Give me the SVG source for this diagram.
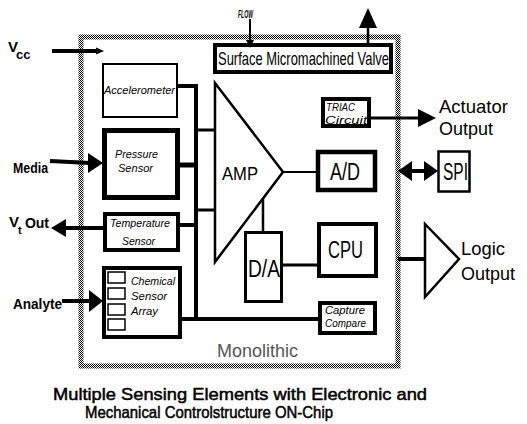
<svg xmlns="http://www.w3.org/2000/svg" width="527" height="424" viewBox="0 0 527 424">
<defs>
<pattern id="dither" patternUnits="userSpaceOnUse" width="2" height="2">
<rect width="2" height="2" fill="#fff"/>
<rect width="1" height="1" fill="#000"/>
<rect x="1" y="1" width="1" height="1" fill="#000"/>
</pattern>
<style>
.box{fill:#fff;stroke:#000}
.w{fill:none;stroke:#000}
.hd{fill:#000;stroke:none}
.lbl{font-family:"Liberation Sans",Arial,sans-serif;font-weight:bold;font-size:15px;fill:#000}
.it{font-family:"Liberation Sans",Arial,sans-serif;font-style:italic;font-size:11px;fill:#000}
.big{font-family:"Liberation Sans",Arial,sans-serif;font-size:23px;fill:#000}
.out{font-family:"Liberation Sans",Arial,sans-serif;font-size:19px;fill:#000}
.cap{font-family:"Liberation Sans",Arial,sans-serif;font-size:17px;fill:#000;stroke:#000;stroke-width:0.5}
</style>
</defs>
<rect width="527" height="424" fill="#fff"/>

<g id="chip">
<rect x="81" y="37" width="317" height="329" fill="none" stroke="url(#dither)" stroke-width="5"/>
<text x="217" y="357" class="out" style="fill:#555" textLength="81" lengthAdjust="spacingAndGlyphs">Monolithic</text>
</g>

<g id="valve">
<rect x="215" y="45" width="176" height="27" class="box" stroke-width="4"/>
<text x="218" y="65" class="out" font-size="18" textLength="171" lengthAdjust="spacingAndGlyphs">Surface Micromachined Valve</text>
</g>

<g id="accelerometer">
<rect x="103" y="64" width="74" height="53" class="box" stroke-width="2"/>
<text x="104" y="94" class="it" textLength="71" lengthAdjust="spacingAndGlyphs">Accelerometer</text>
</g>

<g id="pressure">
<rect x="104.5" y="130.5" width="73" height="67" class="box" stroke-width="5"/>
<text x="115" y="158" class="it" textLength="43" lengthAdjust="spacingAndGlyphs">Pressure</text>
<text x="118" y="172" class="it" textLength="35" lengthAdjust="spacingAndGlyphs">Sensor</text>
</g>

<g id="temperature">
<rect x="105" y="214" width="73" height="36" class="box" stroke-width="4"/>
<text x="110" y="227" class="it" textLength="60" lengthAdjust="spacingAndGlyphs">Temperature</text>
<text x="122" y="245" class="it" textLength="33" lengthAdjust="spacingAndGlyphs">Sensor</text>
</g>

<g id="chemical">
<rect x="104" y="268" width="76" height="69" class="box" stroke-width="4"/>
<rect x="108" y="272" width="17" height="11" class="box" stroke-width="1.5"/>
<rect x="108" y="288" width="17" height="11" class="box" stroke-width="1.5"/>
<rect x="108" y="304" width="17" height="11" class="box" stroke-width="1.5"/>
<rect x="108" y="319" width="17" height="11" class="box" stroke-width="1.5"/>
<text x="131" y="285" class="it" textLength="44" lengthAdjust="spacingAndGlyphs">Chemical</text>
<text x="131" y="300" class="it" textLength="36" lengthAdjust="spacingAndGlyphs">Sensor</text>
<text x="131" y="315" class="it" textLength="27" lengthAdjust="spacingAndGlyphs">Array</text>
</g>

<g id="amp">
<polygon points="215,83 283,172 215,262" class="box" stroke-width="2.5"/>
<text x="222" y="180" class="out" textLength="36" lengthAdjust="spacingAndGlyphs">AMP</text>
</g>

<g id="triac">
<rect x="323" y="99" width="46" height="27" class="box" stroke-width="4"/>
<text x="326" y="111" class="it" font-size="10" textLength="29" lengthAdjust="spacingAndGlyphs">TRIAC</text>
<text x="325" y="124" class="it" textLength="42" lengthAdjust="spacingAndGlyphs">Circuit</text>
</g>

<g id="ad">
<rect x="318" y="152" width="57" height="38" class="box" stroke-width="4.5"/>
<text x="330" y="180" class="big" textLength="30" lengthAdjust="spacingAndGlyphs">A/D</text>
</g>

<g id="da">
<rect x="245.5" y="232.5" width="36" height="69" class="box" stroke-width="3"/>
<text x="248" y="277" class="big" font-size="26" textLength="32" lengthAdjust="spacingAndGlyphs">D/A</text>
</g>

<g id="cpu">
<rect x="319" y="224" width="57" height="52" class="box" stroke-width="4"/>
<text x="328" y="258" class="big" font-size="24" textLength="35" lengthAdjust="spacingAndGlyphs">CPU</text>
</g>

<g id="capture">
<rect x="320" y="303" width="55" height="30" class="box" stroke-width="4"/>
<text x="325" y="314" class="it" textLength="40" lengthAdjust="spacingAndGlyphs">Capture</text>
<text x="325" y="327" class="it" textLength="41" lengthAdjust="spacingAndGlyphs">Compare</text>
</g>

<g id="spi">
<rect x="438.5" y="151.5" width="31" height="40" class="box" stroke-width="2.5"/>
<text x="443" y="180" class="big" textLength="25" lengthAdjust="spacingAndGlyphs">SPI</text>
</g>

<g id="logic">
<polygon points="425,224 459,259 425,297" class="box" stroke-width="2.5"/>
<text x="461" y="255" class="out" font-size="20" textLength="44" lengthAdjust="spacingAndGlyphs">Logic</text>
<text x="461" y="280" class="out" font-size="20" textLength="54" lengthAdjust="spacingAndGlyphs">Output</text>
</g>

<g id="actuator-label">
<text x="439" y="113" class="out" textLength="69" lengthAdjust="spacingAndGlyphs">Actuator</text>
<text x="439" y="135" class="out" textLength="54" lengthAdjust="spacingAndGlyphs">Output</text>
</g>

<g id="labels">
<text x="8" y="52" class="lbl" font-size="12">V<tspan x="16" dy="7" font-size="13">cc</tspan></text>
<text x="13" y="173" class="lbl" textLength="35" lengthAdjust="spacingAndGlyphs">Media</text>
<text x="9" y="227" class="lbl" font-size="12">V<tspan x="18" dy="7" font-size="11">t</tspan><tspan x="21" dy="-6" font-size="14"> Out</tspan></text>
<text x="13" y="309" class="lbl" textLength="49" lengthAdjust="spacingAndGlyphs">Analyte</text>
<text x="238" y="18" class="it" font-size="10" font-weight="bold" textLength="15" lengthAdjust="spacingAndGlyphs">FLOW</text>
</g>

<g id="connectors">
<path d="M178 86H198M196 84V321" class="w" stroke-width="4"/>
<path d="M180 165H196" class="w" stroke-width="5"/>
<path d="M180 225H196" class="w" stroke-width="4"/>
<path d="M182 319H320" class="w" stroke-width="4"/>
<path d="M196 130H215M196 210H215" class="w" stroke-width="3"/>
<path d="M283 172H318" class="w" stroke-width="2"/>
<path d="M263 198V232" class="w" stroke-width="2.5"/>
<path d="M283 265H319" class="w" stroke-width="3"/>
<path d="M371 118H420" class="w" stroke-width="3"/>
<polygon points="418,109 436,118 418,127" class="hd"/>
<path d="M410 171H426" class="w" stroke-width="4"/>
<polygon points="398,171 412,161 412,181" class="hd"/>
<polygon points="438,171 424,161 424,181" class="hd"/>
<path d="M398 259H425" class="w" stroke-width="4"/>
<path d="M52 51H97" class="w" stroke-width="4"/>
<polygon points="96,47.5 104,51 96,54.5" class="hd"/>
<path d="M250 19V42" class="w" stroke-width="2"/>
<polygon points="246,40 250,48 254,40" class="hd"/>
<path d="M368 44V26" class="w" stroke-width="2.5"/>
<polygon points="368,8 359,28 377,28" class="hd"/>
<path d="M50 161L90 163" class="w" stroke-width="4"/>
<polygon points="88,153 103,163 88,173" class="hd"/>
<path d="M103 228H64" class="w" stroke-width="4"/>
<polygon points="51,228 66,219 66,237" class="hd"/>
<path d="M62 301H90" class="w" stroke-width="4"/>
<polygon points="89,290 103,301 89,312" class="hd"/>
</g>

<g id="caption">
<text x="53" y="400" class="cap" textLength="374" lengthAdjust="spacingAndGlyphs">Multiple Sensing Elements with Electronic and</text>
<text x="85" y="418" class="cap" textLength="248" lengthAdjust="spacingAndGlyphs">Mechanical Controlstructure ON-Chip</text>
</g>
</svg>
